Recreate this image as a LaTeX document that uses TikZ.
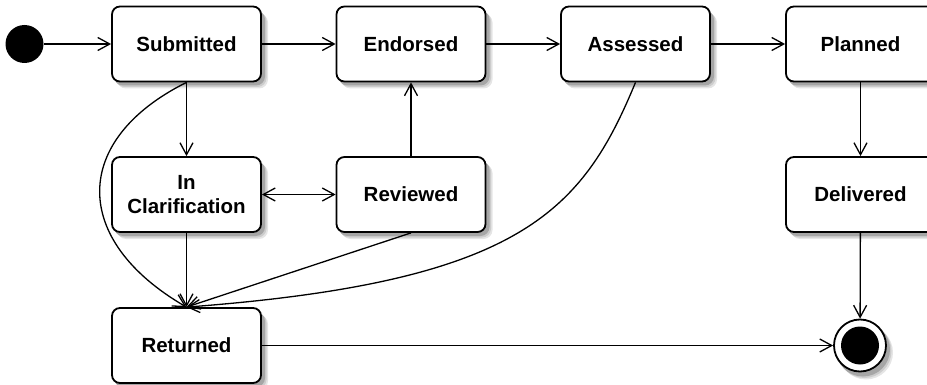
\documentclass[tikz,border=0pt]{standalone}
\usepackage{fontspec}
\setmainfont{Liberation Sans}
\usetikzlibrary{arrows.meta,backgrounds}

\begin{document}
\begin{tikzpicture}
          [x = 1pt, y = -1pt, line width = 1.3pt,
           >= {Straight Barb[length=12pt, width=13pt, line width=1.3pt]},
           state/.style   = {draw, fill = white, rounded corners = 8pt, line width = 1.8pt,
                             minimum width = 149pt, minimum height = 75pt, inner sep = 0pt,
                             align = center, font = \bfseries\fontsize{20.5}{24}\selectfont},
           initial/.style = {circle, fill = black, minimum size = 38pt, inner sep = 0pt},
           final/.style   = {circle, draw, fill = white, line width = 1.8pt, minimum size = 52pt,
                             inner sep = 0pt},
           shade box/.style = {fill = black!#1, rounded corners = 9pt}]

\useasboundingbox (0,0) rectangle (927,385);

% Soft shadows, drawn first
  \foreach \s/\c in {7/10, 5.5/20, 4/35} {
    \foreach \x/\y in {186.5/44, 411/44, 635.5/44, 860.5/44, 186.5/194.5, 411/194.5, 860.5/194.5, 186.5/345.5}
      \fill [shade box=\c] (\x-74.5+\s-2, \y-37.5+\s) rectangle (\x+74.5+\s, \y+37.5+\s);
    \fill [fill = black!\c] (860+\s-1, 345.5+\s) circle (27pt);
  }

% Top row
  \node [initial](start)     at (24.5,44)   {};
  \node [state](submitted)   at (186.5,44)  {Submitted};
  \node [state](endorsed)    at (411,44)    {Endorsed};
  \node [state](assessed)    at (635.5,44)  {Assessed};
  \node [state](planned)     at (860.5,44)  {Planned};

% Middle row
  \node [state](clarif)      at (186.5,194.5) {In\\Clarification};
  \node [state](reviewed)    at (411,194.5)   {Reviewed};
  \node [state](delivered)   at (860.5,194.5) {Delivered};

% Bottom row
  \node [state](returned)    at (186.5,345.5) {Returned};
  \node [final](stop)        at (860,345.5)   {};
  \fill (stop.center) circle (19pt);

% Main flow
  \draw [->] (start)     -- (submitted);
  \draw [->] (submitted) -- (endorsed);
  \draw [->] (endorsed)  -- (assessed);
  \draw [->] (assessed)  -- (planned);
  \draw [->] (planned)   -- (delivered);
  \draw [->] (delivered) -- (stop);

% Clarification loop
  \draw [->]  (submitted) -- (clarif);
  \draw [<->] (clarif)    -- (reviewed);
  \draw [->]  (reviewed)  -- (endorsed);

% Going back
  \draw [->] (clarif)         -- (returned);
  \draw [->] (submitted.south) .. controls (71,140) and (71,240) .. (returned.north);
  \draw [->] (reviewed.south)  -- (returned.north);
  \draw [->] (assessed.south)  .. controls (582,212) and (520,282) .. (returned.north);
  \draw [->] (returned)        -- (stop);

\end{tikzpicture}
\end{document}
